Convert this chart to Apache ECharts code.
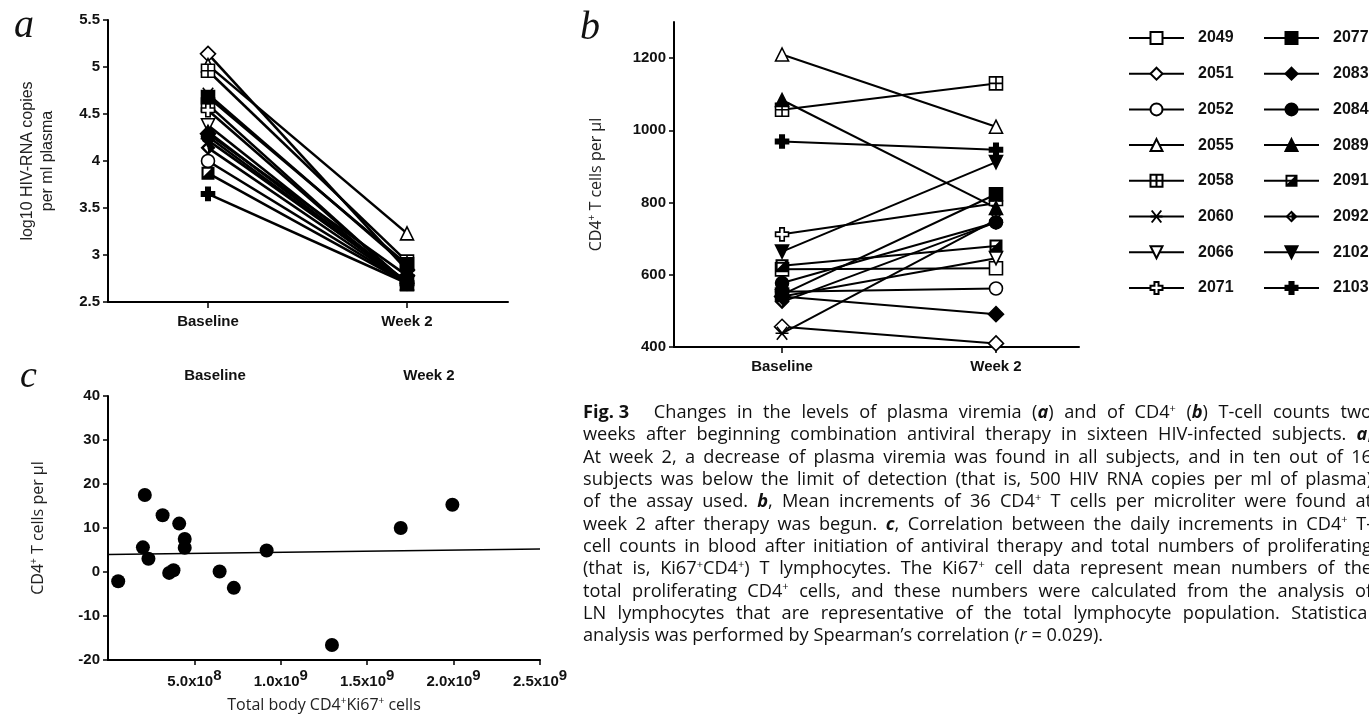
<!DOCTYPE html>
<html>
<head>
<meta charset="utf-8">
<script src="https://cdn.jsdelivr.net/npm/echarts@6/dist/echarts.min.js"></script>
<style>
  body { margin: 0; padding: 0; background: #fff; }
  #chart { width: 1369px; height: 714px; }
</style>
</head>
<body>
<div id="chart"></div>
<script>
// subjects (legend order)
var subjects = ['2049', '2051', '2052', '2055', '2058', '2060', '2066', '2071',
                '2077', '2083', '2084', '2089', '2091', '2092', '2102', '2103'];
var timepoints = ['Baseline', 'Week 2'];

// panel a: log10 HIV-RNA copies per ml plasma
var aBaseline = [4.60, 5.14, 4.00, 5.02, 4.96, 4.71, 4.38, 4.54, 4.68, 4.29, 4.26, 4.31, 3.87, 4.14, 4.22, 3.65];
var aWeek2    = [2.69, 2.84, 2.70, 3.23, 2.93, 2.88, 2.70, 2.70, 2.90, 2.78, 2.70, 2.70, 2.70, 2.70, 2.72, 2.70];

// panel b: CD4+ T cells per ul
var bBaseline = [615, 456, 553, 1210, 1057, 438, 540, 712, 545, 540, 577, 1084, 625, 525, 664, 969];
var bWeek2    = [618, 410, 562, 1010, 1130, 752, 646, 798, 823, 491, 745, 785, 680, 745, 912, 946];

// panel c: total body CD4+Ki67+ cells vs daily increment
var cCells = [0.59e8, 2.13e8, 2.02e8, 2.34e8, 3.16e8, 3.54e8, 3.79e8, 4.12e8,
              4.44e8, 4.44e8, 6.46e8, 7.28e8, 9.18e8, 12.96e8, 16.94e8, 19.93e8];
var cIncrement = [-2.1, 17.5, 5.6, 3.0, 12.9, -0.2, 0.4, 11.0, 7.5, 5.5, 0.1, -3.6, 4.9, -16.6, 10.0, 15.3];
var cFitX = [0, 2.5e9];
var cFitY = [4.0, 5.25];
var cTickMant = ['', '5.0x10', '1.0x10', '1.5x10', '2.0x10', '2.5x10'];
var cTickExp  = ['', '8', '9', '9', '9', '9'];

// caption, justified except the last line
var captionLines = [
  '{b|Fig.\u00a03}\u00a0\u00a0\u00a0 Changes in the levels of plasma viremia ({bi|a}) and of CD4{s|+} ({bi|b}) T-cell counts two',
  'weeks after beginning combination antiviral therapy in sixteen HIV-infected subjects. {bi|a},',
  'At week 2, a decrease of plasma viremia was found in all subjects, and in ten out of 16',
  'subjects was below the limit of detection (that is, 500 HIV RNA copies per ml of plasma)',
  'of the assay used. {bi|b}, Mean increments of 36 CD4{s|+} T cells per microliter were found at',
  'week 2 after therapy was begun. {bi|c}, Correlation between the daily increments in CD4{s|+} T-',
  'cell counts in blood after initiation of antiviral therapy and total numbers of proliferating',
  '(that is, Ki67{s|+}CD4{s|+}) T lymphocytes. The Ki67{s|+} cell data represent mean numbers of the',
  'total proliferating CD4{s|+} cells, and these numbers were calculated from the analysis of',
  'LN lymphocytes that are representative of the total lymphocyte population. Statistical',
  'analysis was performed by Spearman\u2019s correlation ({i|r} = 0.029).'
];

// marker shapes
var P_SQPLUS = 'path://M0,0L10,0L10,10L0,10ZM5,0L5,10M0,5L10,5';
var P_STAR = 'path://M0,5L10,5M1,1L9,9M1,9L9,1';
var P_CROSS = 'path://M3.3,0L6.7,0L6.7,3.3L10,3.3L10,6.7L6.7,6.7L6.7,10L3.3,10L3.3,6.7L0,6.7L0,3.3L3.3,3.3Z';
var P_HALFSQ = 'path://M0,0L10,0L10,10L0,10ZM1.6,1.6L1.6,7.4L7.4,1.6Z';
var P_HALFDIA = 'path://M5,0L10,5L5,10L0,5ZM5,2.3L2.3,5L5,7.7Z';
var markers = {
  '2049': { symbol: 'rect', open: true },
  '2051': { symbol: 'diamond', open: true, big: true },
  '2052': { symbol: 'circle', open: true },
  '2055': { symbol: 'triangle', open: true },
  '2058': { symbol: P_SQPLUS, open: true },
  '2060': { symbol: P_STAR, open: true },
  '2066': { symbol: 'triangle', open: true, rotate: 180 },
  '2071': { symbol: P_CROSS, open: true },
  '2077': { symbol: 'rect' },
  '2083': { symbol: 'diamond', big: true },
  '2084': { symbol: 'circle' },
  '2089': { symbol: 'triangle' },
  '2091': { symbol: P_HALFSQ, noBorder: true },
  '2092': { symbol: P_HALFDIA, noBorder: true, big: true },
  '2102': { symbol: 'triangle', rotate: 180 },
  '2103': { symbol: P_CROSS }
};

var NUM_FONT = 'Liberation Sans';
var TEXT_FONT = 'Open Sans';

function subjectSeries(i, axis, base, week, lineWidth, size) {
  var m = markers[subjects[i]];
  return {
    type: 'line',
    name: subjects[i],
    xAxisIndex: axis,
    yAxisIndex: axis,
    data: [[0, base[i]], [1, week[i]]],
    symbol: m.symbol,
    symbolSize: m.big ? size + 2 : size,
    symbolRotate: m.rotate || 0,
    clip: false,
    lineStyle: { color: '#000', width: lineWidth },
    itemStyle: {
      color: m.open ? '#fff' : '#000',
      borderColor: '#000',
      borderWidth: m.noBorder ? 0 : 1.6,
      opacity: 1
    },
    emphasis: { disabled: true },
    silent: true
  };
}

var sup = { fontSize: 10, fontFamily: TEXT_FONT, color: '#222', padding: [0, 0, 9, 0] };

function axisBase() {
  return {
    axisLine: { show: true, onZero: false, lineStyle: { color: '#000', width: 2 } },
    axisTick: { show: true, length: 5, lineStyle: { color: '#000', width: 1.5 } },
    splitLine: { show: false },
    axisLabel: { color: '#111', fontFamily: NUM_FONT, fontWeight: 'bold', fontSize: 15 }
  };
}

function timeAxis(grid, min, max) {
  var ax = axisBase();
  ax.type = 'value';
  ax.gridIndex = grid;
  ax.min = min;
  ax.max = max;
  ax.axisLabel.customValues = [0, 1];
  ax.axisLabel.margin = 12;
  ax.axisLabel.formatter = function (v) { return timepoints[Math.round(v)] || ''; };
  ax.axisTick.customValues = [0, 1];
  ax.axisTick.length = 6;
  return ax;
}

var yA = axisBase();
yA.type = 'value'; yA.gridIndex = 0; yA.min = 2.5; yA.max = 5.5; yA.interval = 0.5;
yA.axisLabel.margin = 8;
yA.axisLabel.formatter = function (v) { return String(v); };
yA.name = 'log10 HIV-RNA copies\nper ml plasma';
yA.nameLocation = 'middle';
yA.nameGap = 50;
yA.nameTextStyle = { fontFamily: NUM_FONT, fontSize: 16, lineHeight: 20, color: '#222' };

var yB = axisBase();
yB.type = 'value'; yB.gridIndex = 1; yB.min = 400; yB.max = 1300; yB.interval = 200;
yB.axisLabel.margin = 8;
yB.axisLabel.showMaxLabel = false;
yB.axisLabel.formatter = function (v) { return v >= 1300 ? '' : String(v); };
yB.name = '{t|CD4}{s|+}{t| T cells per \u00b5l}';
yB.nameLocation = 'middle';
yB.nameGap = 68;
yB.nameTextStyle = { color: '#222', rich: { t: { fontFamily: TEXT_FONT, fontSize: 16, color: '#222' }, s: sup } };

var xC = axisBase();
xC.type = 'value'; xC.gridIndex = 2; xC.min = 0; xC.max = 2.5e9; xC.interval = 5e8;
xC.axisLabel.showMinLabel = false;
xC.axisLabel.margin = 8;
xC.axisLabel.formatter = function (v) {
  var k = Math.round(v / 5e8);
  if (!k) return '';
  return '{m|' + cTickMant[k] + '}{e|' + cTickExp[k] + '}';
};
xC.axisLabel.rich = {
  m: { fontFamily: NUM_FONT, fontWeight: 'bold', fontSize: 15, color: '#111' },
  e: { fontFamily: NUM_FONT, fontWeight: 'bold', fontSize: 15, color: '#111', padding: [0, 0, 12, 0] }
};
xC.name = '{t|Total body CD4}{s|+}{t|Ki67}{s|+}{t| cells}';
xC.nameLocation = 'middle';
xC.nameGap = 36;
xC.nameTextStyle = { rich: { t: { fontFamily: TEXT_FONT, fontSize: 16, color: '#222' }, s: sup } };

var yC = axisBase();
yC.type = 'value'; yC.gridIndex = 2; yC.min = -20; yC.max = 40; yC.interval = 10;
yC.axisLabel.margin = 8;
yC.name = '{t|CD4}{s|+}{t| T cells per \u00b5l}';
yC.nameLocation = 'middle';
yC.nameGap = 60;
yC.nameTextStyle = { rich: { t: { fontFamily: TEXT_FONT, fontSize: 16, color: '#222' }, s: sup } };

var series = [];
var i;
for (i = 0; i < subjects.length; i++) series.push(subjectSeries(i, 1, bBaseline, bWeek2, 2, 13));
for (i = 0; i < subjects.length; i++) series.push(subjectSeries(i, 0, aBaseline, aWeek2, 2.6, 13));
series.push({
  type: 'line', xAxisIndex: 2, yAxisIndex: 2, silent: true,
  data: cFitX.map(function (x, k) { return [x, cFitY[k]]; }),
  symbol: 'none', lineStyle: { color: '#000', width: 1.5 }
});
series.push({
  type: 'scatter', xAxisIndex: 2, yAxisIndex: 2, silent: true,
  data: cCells.map(function (x, k) { return [x, cIncrement[k]]; }),
  symbol: 'circle', symbolSize: 14, itemStyle: { color: '#000', opacity: 1 }
});

function legendCol(names, left) {
  return {
    data: names, orient: 'vertical', left: left, top: 25,
    itemWidth: 55, itemHeight: 15, itemGap: 19.7,
    selectedMode: false,
    textStyle: { fontFamily: NUM_FONT, fontWeight: 'bold', fontSize: 16, lineHeight: 15, color: '#111', padding: [0, 0, 0, 9] }
  };
}

var graphics = [
  { type: 'text', left: 14, top: 6, style: { text: 'a', font: 'italic 40px "Liberation Serif"', fill: '#111' } },
  { type: 'text', left: 580, top: 8, style: { text: 'b', font: 'italic 40px "Liberation Serif"', fill: '#111' } },
  { type: 'text', left: 20, top: 358, style: { text: 'c', font: 'italic 38px "Liberation Serif"', fill: '#111' } },
  { type: 'text', x: 215, y: 376, style: { text: timepoints[0], align: 'center', verticalAlign: 'middle', font: 'bold 15px "Liberation Sans"', fill: '#111' } },
  { type: 'text', x: 429, y: 376, style: { text: timepoints[1], align: 'center', verticalAlign: 'middle', font: 'bold 15px "Liberation Sans"', fill: '#111' } }
];

// caption layout: words placed one by one so full lines can be justified
var CAP_SIZE = 18.2;
var CAP_LEFT = 583, CAP_RIGHT = 1372, CAP_TOP = 413, CAP_STEP = 22.3;
var capFonts = {
  '': CAP_SIZE + 'px "Open Sans"',
  b: 'bold ' + CAP_SIZE + 'px "Open Sans"',
  bi: 'italic bold ' + CAP_SIZE + 'px "Open Sans"',
  i: 'italic ' + CAP_SIZE + 'px "Open Sans"',
  s: '11px "Open Sans"'
};
var capRich = {
  b: { fontFamily: TEXT_FONT, fontWeight: 'bold', fontSize: CAP_SIZE, fill: '#111' },
  bi: { fontFamily: TEXT_FONT, fontWeight: 'bold', fontStyle: 'italic', fontSize: CAP_SIZE, fill: '#111' },
  i: { fontFamily: TEXT_FONT, fontStyle: 'italic', fontSize: CAP_SIZE, fill: '#111' },
  s: { fontFamily: TEXT_FONT, fontSize: 11, fill: '#111', padding: [0, 0, 9, 0] }
};
var measureCtx = document.createElement('canvas').getContext('2d');
function wordWidth(word) {
  var re = /\{(\w+)\|([^}]*)\}|([^{]+)/g, m, w = 0;
  while ((m = re.exec(word)) !== null) {
    measureCtx.font = m[1] ? capFonts[m[1]] : capFonts[''];
    w += measureCtx.measureText(m[1] ? m[2] : m[3]).width;
  }
  return w;
}
var spaceW = (function () { measureCtx.font = capFonts['']; return measureCtx.measureText(' ').width; })();
captionLines.forEach(function (line, k) {
  var words = line.split(' ');
  var widths = words.map(wordWidth);
  var total = widths.reduce(function (a, b) { return a + b; }, 0);
  var last = k === captionLines.length - 1;
  var gap = last ? spaceW : Math.max(spaceW, (CAP_RIGHT - CAP_LEFT - total) / (words.length - 1));
  var x = CAP_LEFT;
  words.forEach(function (word, j) {
    graphics.push({
      type: 'text', x: x, y: CAP_TOP + k * CAP_STEP, silent: true,
      style: { text: word, verticalAlign: 'middle', font: capFonts[''], fill: '#111', rich: capRich }
    });
    x += widths[j] + gap;
  });
});

var chart = echarts.init(document.getElementById('chart'), null, { renderer: 'canvas' });
chart.setOption({
  animation: false,
  backgroundColor: '#fff',
  grid: [
    { left: 108, top: 20, width: 400, height: 282, outerBoundsMode: 'none' },
    { left: 674, top: 22, width: 405, height: 325, outerBoundsMode: 'none' },
    { left: 108, top: 396, width: 432, height: 264, outerBoundsMode: 'none' }
  ],
  xAxis: [timeAxis(0, -0.5025, 1.5075), timeAxis(1, -0.505, 1.388), xC],
  yAxis: [yA, yB, yC],
  legend: [legendCol(subjects.slice(0, 8), 1123), legendCol(subjects.slice(8), 1258)],
  graphic: graphics,
  series: series
});
</script>
</body>
</html>
